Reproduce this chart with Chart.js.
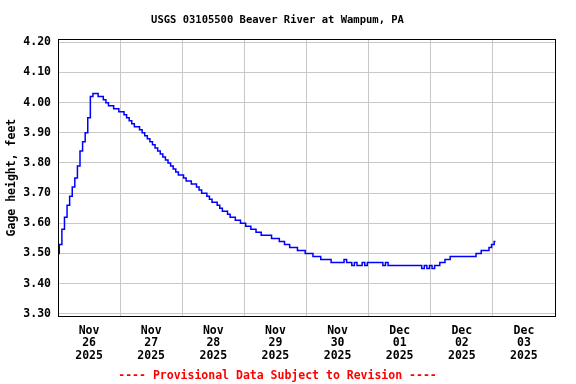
<!DOCTYPE html>
<html>
<head>
<meta charset="utf-8">
<script src="https://cdn.jsdelivr.net/npm/chart.js@4/dist/chart.umd.min.js"></script>
<style>
  body { margin: 0; background: #fff; }
  #chart { display: block; }
</style>
</head>
<body>
<canvas id="chart" width="576" height="384"></canvas>
<script>
// hourly gage height (ft), starting Nov 26 2025 00:00
const gageFt = [
  3.50, 3.53, 3.58, 3.62, 3.66, 3.69, 3.72, 3.75, 3.79, 3.84, 3.87, 3.90,
  3.95, 4.02, 4.03, 4.03, 4.02, 4.02, 4.01, 4.00, 3.99, 3.99, 3.98, 3.98,
  3.97, 3.97, 3.96, 3.95, 3.94, 3.93, 3.92, 3.92, 3.91, 3.90, 3.89, 3.88,
  3.87, 3.86, 3.85, 3.84, 3.83, 3.82, 3.81, 3.80, 3.79, 3.78, 3.77, 3.76,
  3.76, 3.75, 3.74, 3.74, 3.73, 3.73, 3.72, 3.71, 3.70, 3.70, 3.69, 3.68,
  3.67, 3.67, 3.66, 3.65, 3.64, 3.64, 3.63, 3.62, 3.62, 3.61, 3.61, 3.60,
  3.60, 3.59, 3.59, 3.58, 3.58, 3.57, 3.57, 3.56, 3.56, 3.56, 3.56, 3.55,
  3.55, 3.55, 3.54, 3.54, 3.53, 3.53, 3.52, 3.52, 3.52, 3.51, 3.51, 3.51,
  3.50, 3.50, 3.50, 3.49, 3.49, 3.49, 3.48, 3.48, 3.48, 3.48, 3.47, 3.47,
  3.47, 3.47, 3.47, 3.48, 3.47, 3.47, 3.46, 3.47, 3.46, 3.46, 3.47, 3.46,
  3.47, 3.47, 3.47, 3.47, 3.47, 3.47, 3.46, 3.47, 3.46, 3.46, 3.46, 3.46,
  3.46, 3.46, 3.46, 3.46, 3.46, 3.46, 3.46, 3.46, 3.46, 3.45, 3.46, 3.45,
  3.46, 3.45, 3.46, 3.46, 3.47, 3.47, 3.48, 3.48, 3.49, 3.49, 3.49, 3.49,
  3.49, 3.49, 3.49, 3.49, 3.49, 3.49, 3.50, 3.50, 3.51, 3.51, 3.51, 3.52,
  3.53, 3.54
];

const yTicks = [3.30, 3.40, 3.50, 3.60, 3.70, 3.80, 3.90, 4.00, 4.10, 4.20];
const xTickHours = [0, 12, 24, 36, 48, 60, 72, 84, 96, 108, 120, 132, 144, 156, 168, 180, 192];
const labelMonths = ["Nov", "Nov", "Nov", "Nov", "Nov", "Dec", "Dec", "Dec"];
const labelDays = ["26", "27", "28", "29", "30", "01", "02", "03"];
const labelYears = ["2025", "2025", "2025", "2025", "2025", "2025", "2025", "2025"];

const FONT = "'DejaVu Sans Mono', monospace";
const GRID = "#c8c8c8";

const frame = {
  id: "frame",
  afterDraw(chart) {
    const { ctx, chartArea: a } = chart;
    ctx.save();
    ctx.strokeStyle = "#000";
    ctx.lineWidth = 1;
    ctx.strokeRect(Math.round(a.left) + 0.5, Math.round(a.top) + 0.5,
      Math.round(a.right - a.left), Math.round(a.bottom - a.top));
    ctx.restore();
  }
};

new Chart(document.getElementById("chart"), {
  type: "line",
  data: {
    datasets: [{
      data: gageFt.map((v, i) => ({ x: i, y: v })),
      borderColor: "#0000ff",
      borderWidth: 1.5,
      pointRadius: 0,
      stepped: "middle",
      fill: false
    }]
  },
  options: {
    responsive: false,
    animation: false,
    devicePixelRatio: 1,
    layout: { padding: { left: 0, right: 21, top: 0, bottom: 0 } },
    plugins: {
      legend: { display: false },
      tooltip: { enabled: false },
      title: {
        display: true,
        text: "USGS 03105500 Beaver River at Wampum, PA",
        color: "#000",
        font: { family: FONT, size: 10.5, weight: "bold", lineHeight: 1.2 },
        padding: { top: 14, bottom: 12.4 }
      },
      subtitle: {
        display: true,
        position: "bottom",
        text: "---- Provisional Data Subject to Revision ----",
        color: "#ff0000",
        font: { family: FONT, size: 11.5, weight: "bold", lineHeight: 1.2 },
        padding: { top: 0, bottom: 1 }
      }
    },
    scales: {
      x: {
        type: "linear",
        min: 0,
        max: 192,
        afterBuildTicks: (s) => { s.ticks = xTickHours.map(v => ({ value: v })); },
        afterFit: (s) => { s.height = 53; },
        grid: {
          color: (c) => (c.tick && c.tick.value % 24 === 0) ? GRID : "rgba(0,0,0,0)",
          drawTicks: false
        },
        border: { display: false },
        ticks: {
          autoSkip: false,
          maxRotation: 0,
          minRotation: 0,
          padding: 8,
          color: "#000",
          font: { family: FONT, size: 11.5, weight: "bold", lineHeight: 1.11 },
          callback: (v) => {
            if (v % 24 !== 12) return "";
            const k = (v - 12) / 24;
            return [labelMonths[k], labelDays[k], labelYears[k]];
          }
        }
      },
      y: {
        min: 3.292,
        max: 4.211,
        afterBuildTicks: (s) => { s.ticks = yTicks.map(v => ({ value: v })); },
        afterFit: (s) => { s.width = 58; },
        grid: { color: GRID, drawTicks: false },
        border: { display: false },
        ticks: {
          padding: 7,
          color: "#000",
          font: { family: FONT, size: 11.5, weight: "bold" },
          callback: (v) => Number(v).toFixed(2)
        },
        title: {
          display: true,
          text: "Gage height, feet",
          color: "#000",
          font: { family: FONT, size: 11.5, weight: "bold", lineHeight: 1.2 },
          padding: { top: 5, bottom: 0 }
        }
      }
    }
  },
  plugins: [frame]
});
</script>
</body>
</html>
